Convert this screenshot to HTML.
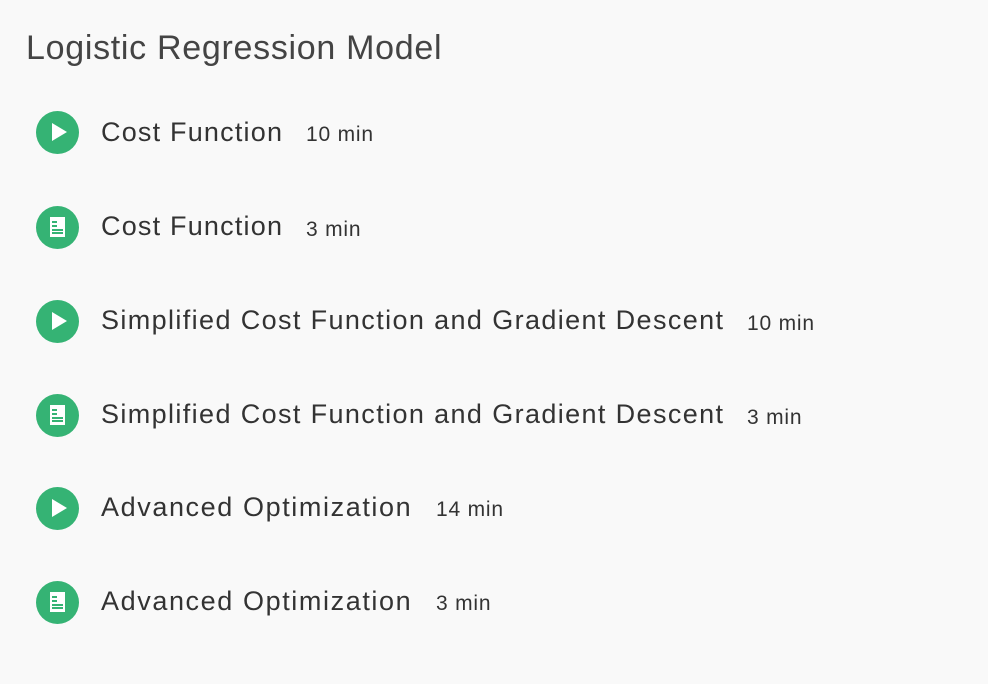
<!DOCTYPE html>
<html><head><meta charset="utf-8"><style>
body{margin:0;width:988px;height:684px;background:#f9f9f9;font-family:"Liberation Sans",sans-serif;color:#333;position:relative;overflow:hidden}
.t{position:absolute;left:26px;top:29px;font-size:34px;color:#444;letter-spacing:0.7px;white-space:nowrap}
.ic{position:absolute;left:36px;width:43px;height:43px;border-radius:50%;background:#35b374}
.play:after{content:"";position:absolute;left:16px;top:12px;border-left:15px solid #fff;border-top:9.5px solid transparent;border-bottom:9.5px solid transparent}
.doc:after{content:"";position:absolute;left:14px;top:11px;width:15px;height:20px;background:#fff}
.doc i{position:absolute;left:16px;height:1.5px;background:#35b374;z-index:2}
.n{position:absolute;left:101px;font-size:27px;white-space:nowrap;color:#333}
.m{position:absolute;font-size:21px;letter-spacing:0.8px;white-space:nowrap;color:#333}
.a{letter-spacing:1.2px}.b{letter-spacing:1.38px}.c{letter-spacing:1.6px}
</style></head><body>
<div class="t">Logistic Regression Model</div>

<div class="ic play" style="top:111px"></div>
<div class="n a" style="top:117px">Cost Function</div><div class="m" style="left:306px;top:123px">10 min</div>

<div class="ic doc" style="top:206px"><i style="top:15px;width:5px"></i><i style="top:19px;width:5px"></i><i style="top:23px;width:11px"></i><i style="top:26px;width:11px"></i></div>
<div class="n a" style="top:211px">Cost Function</div><div class="m" style="left:306px;top:218px">3 min</div>

<div class="ic play" style="top:300px"></div>
<div class="n b" style="top:305px">Simplified Cost Function and Gradient Descent</div><div class="m" style="left:747px;top:312px">10 min</div>

<div class="ic doc" style="top:394px"><i style="top:15px;width:5px"></i><i style="top:19px;width:5px"></i><i style="top:23px;width:11px"></i><i style="top:26px;width:11px"></i></div>
<div class="n b" style="top:399px">Simplified Cost Function and Gradient Descent</div><div class="m" style="left:747px;top:406px">3 min</div>

<div class="ic play" style="top:487px"></div>
<div class="n c" style="top:492px">Advanced Optimization</div><div class="m" style="left:436px;top:498px">14 min</div>

<div class="ic doc" style="top:581px"><i style="top:15px;width:5px"></i><i style="top:19px;width:5px"></i><i style="top:23px;width:11px"></i><i style="top:26px;width:11px"></i></div>
<div class="n c" style="top:586px">Advanced Optimization</div><div class="m" style="left:436px;top:592px">3 min</div>
</body></html>
